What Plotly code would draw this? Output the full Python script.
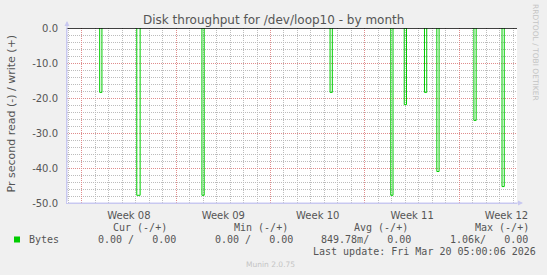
import plotly.graph_objects as go

# ---- data ----
spike_start = ["2026-02-17 08:00", "2026-02-20 02:00", "2026-02-24 22:00", "2026-03-06 10:00",
               "2026-03-10 22:00", "2026-03-11 22:00", "2026-03-13 10:00", "2026-03-14 08:00",
               "2026-03-17 02:00", "2026-03-19 04:00"]
spike_end = ["2026-02-17 12:00", "2026-02-20 08:00", "2026-02-25 02:00", "2026-03-06 14:00",
             "2026-03-11 02:00", "2026-03-12 02:00", "2026-03-13 14:00", "2026-03-14 12:00",
             "2026-03-17 06:00", "2026-03-19 08:00"]
spike_value = [-18.4, -47.8, -47.8, -18.4, -47.8, -21.9, -18.4, -41.0, -26.4, -45.3]

x_start = "2026-02-14 21:50"
x_end = "2026-03-20 06:40"

y_tickvals = [0, -10, -20, -30, -40, -50]
y_ticktext = ["0.0", "-10.0", "-20.0", "-30.0", "-40.0", "-50.0"]

legend_headers = ["Cur (-/+)", "Min (-/+)", "Avg (-/+)", "Max (-/+)"]
legend_values = ["0.00 /   0.00", "0.00 /   0.00", "849.78m/   0.00", "1.06k/   0.00"]
series_name = "Bytes"
title_text = "Disk throughput for /dev/loop10 - by month"
y_title = "Pr second read (-) / write (+)"
last_update = "Last update: Fri Mar 20 05:00:06 2026"
munin_ver = "Munin 2.0.75"
side_text = "RRDTOOL / TOBI OETIKER"

# ---- build the spike outlines from the data (gaps between spikes) ----
xs, ys = [], []
for s, e, v in zip(spike_start, spike_end, spike_value):
    xs += [s, s, e, e, None]
    ys += [0, v, v, 0, None]

W, H = 547, 275
L, R, T, B = 67, 517, 28, 203
GREEN = "#00cc00"
TEXT = "#555555"
MONO = "DejaVu Sans Mono"
AXIS = "#c8c8f0"
MAJOR = "#e08c8c"
MINOR = "#bcbcbc"


def px(xp):
    return (xp - L) / (R - L)


def py(yp):
    return (B - yp) / (B - T)


fig = go.Figure()
fig.add_trace(go.Scatter(x=xs, y=ys, mode="lines", line=dict(color=GREEN, width=1),
                         name=series_name, hoverinfo="skip", connectgaps=False))

fig.update_layout(
    width=W, height=H, autosize=False,
    margin=dict(l=L, r=W - R, t=T, b=H - B, pad=0),
    paper_bgcolor="#f0f0f0", plot_bgcolor="#ffffff",
    showlegend=False,
    font=dict(family="DejaVu Sans", size=10, color=TEXT),
)

fig.update_xaxes(
    type="date", range=[x_start, x_end],
    tick0="2026-02-16", dtick=604800000, tickformat="Week %V", ticklabelmode="period",
    showgrid=True, gridcolor=MAJOR, griddash="1px,1px",
    minor=dict(dtick=86400000, tick0="2026-02-16", showgrid=True, gridcolor=MINOR, griddash="1px,1px"),
    showline=True, linecolor=AXIS, linewidth=1, zeroline=False,
    tickfont=dict(family="DejaVu Sans", size=10, color=TEXT), ticklabelstandoff=3,
)
fig.update_yaxes(
    range=[-50, 0], tickvals=y_tickvals, ticktext=y_ticktext,
    showgrid=True, gridcolor=MAJOR, griddash="1px,1px",
    minor=dict(dtick=2, showgrid=True, gridcolor=MINOR, griddash="1px,1px"),
    showline=True, linecolor=AXIS, linewidth=1, zeroline=False,
    tickfont=dict(family="DejaVu Sans", size=10, color=TEXT), ticklabelstandoff=6,
)

# zero rule drawn over the data
fig.add_shape(type="line", xref="paper", yref="y", x0=0, x1=1, y0=0, y1=0,
              line=dict(color="#000000", width=1.5), layer="above")

ann = []
ann.append(dict(text=title_text, xref="paper", yref="paper", x=px(273), y=py(19.5),
                xanchor="center", yanchor="middle", showarrow=False,
                font=dict(family="DejaVu Sans", size=12, color=TEXT)))
ann.append(dict(text=y_title, xref="paper", yref="paper", x=px(10.5), y=py(114),
                xanchor="center", yanchor="middle", showarrow=False, textangle=-90,
                font=dict(family="DejaVu Sans", size=11, color=TEXT)))
ann.append(dict(text=side_text, xref="paper", yref="paper", x=px(536), y=py(52),
                xanchor="center", yanchor="middle", showarrow=False, textangle=90,
                font=dict(family="DejaVu Sans", size=7.5, color="#c4c4c4")))
ann.append(dict(text="", xref="paper", yref="paper", x=px(67), y=py(21), ax=0, ay=182,
                showarrow=True, arrowhead=2, arrowsize=1, arrowwidth=1, arrowcolor=AXIS))
ann.append(dict(text="", xref="paper", yref="paper", x=px(523), y=py(203), ax=-456, ay=0,
                showarrow=True, arrowhead=2, arrowsize=1, arrowwidth=1, arrowcolor=AXIS))

nb = lambda s: s.replace(" ", "\u00a0")
header_left = [111, 231.7, 352.3, 472.7]
value_left = [95.7, 212.7, 318.7, 448.3]
for h, xl in zip(legend_headers, header_left):
    ann.append(dict(text=nb(h), xref="paper", yref="paper", x=px(xl), y=py(227.3),
                    xanchor="left", yanchor="middle", showarrow=False,
                    font=dict(family=MONO, size=10, color=TEXT)))
for v, xl in zip(legend_values, value_left):
    ann.append(dict(text=nb(v), xref="paper", yref="paper", x=px(xl), y=py(239.5),
                    xanchor="left", yanchor="middle", showarrow=False,
                    font=dict(family=MONO, size=10, color=TEXT)))
ann.append(dict(text=series_name, xref="paper", yref="paper", x=px(26.7), y=py(239.5),
                xanchor="left", yanchor="middle", showarrow=False,
                font=dict(family=MONO, size=10, color=TEXT)))
ann.append(dict(text=nb(last_update), xref="paper", yref="paper", x=px(311.3), y=py(251),
                xanchor="left", yanchor="middle", showarrow=False,
                font=dict(family=MONO, size=10, color=TEXT)))
ann.append(dict(text=munin_ver, xref="paper", yref="paper", x=px(297.3), y=py(264.3),
                xanchor="right", yanchor="middle", showarrow=False,
                font=dict(family="DejaVu Sans", size=7.5, color="#c4c4c4")))
fig.update_layout(annotations=ann)

fig.add_shape(type="rect", xref="paper", yref="paper", x0=px(14), x1=px(20), y0=py(242.5), y1=py(236.5),
              fillcolor=GREEN, line=dict(width=0), layer="above")

fig.write_html("out.html")
